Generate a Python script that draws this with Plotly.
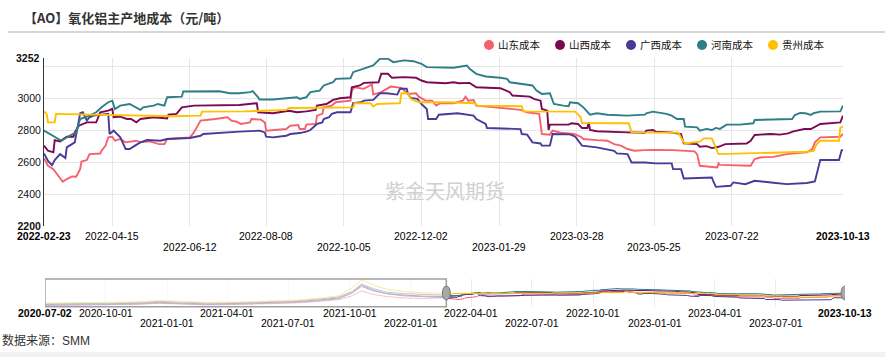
import plotly.graph_objects as go

# ---------------- data ----------------
series_names = ["山东成本", "山西成本", "广西成本", "河南成本", "贵州成本"]
colors = ["#F5616D", "#7A0A52", "#4A3A98", "#2E7E88", "#FFC000"]

sd_dates = ['2022-02-23','2022-02-26','2022-03-02','2022-03-06','2022-03-09','2022-03-12','2022-03-16','2022-03-19','2022-03-22','2022-03-23',
            '2022-03-27','2022-03-29','2022-04-06','2022-04-07','2022-04-10','2022-04-12','2022-04-15','2022-04-17','2022-04-21','2022-04-25',
            '2022-05-03','2022-05-06','2022-05-13','2022-05-20','2022-05-24','2022-05-26','2022-06-12','2022-06-15','2022-06-20','2022-07-01',
            '2022-07-10','2022-07-13','2022-07-17','2022-07-20','2022-07-27','2022-07-28','2022-08-04','2022-08-07','2022-08-08','2022-08-23',
            '2022-08-26','2022-09-01','2022-09-02','2022-09-06','2022-09-07','2022-09-14','2022-09-15','2022-09-19','2022-09-20','2022-09-26',
            '2022-09-29','2022-10-10','2022-10-11','2022-10-13','2022-10-20','2022-10-26','2022-10-27','2022-11-02','2022-11-09','2022-11-17',
            '2022-11-22','2022-11-28','2022-11-30','2022-12-05','2022-12-10','2022-12-13','2022-12-16','2022-12-26','2023-01-02','2023-01-04',
            '2023-01-06','2023-01-10','2023-01-12','2023-01-30','2023-02-14','2023-02-19','2023-02-28','2023-03-01','2023-03-02','2023-03-08',
            '2023-03-10','2023-03-16','2023-03-26','2023-03-31','2023-04-02','2023-04-12','2023-04-20','2023-04-25','2023-04-30','2023-05-05',
            '2023-05-10','2023-05-18','2023-05-24','2023-06-08','2023-06-24','2023-06-26','2023-06-28','2023-07-11','2023-07-12','2023-07-13',
            '2023-08-05','2023-08-08','2023-08-12','2023-08-22','2023-09-01','2023-09-11','2023-09-16','2023-09-20','2023-09-22','2023-09-26',
            '2023-10-11','2023-10-13']
sd_vals = [2625,2577,2556,2514,2477,2494,2510,2508,2556,2604,
           2613,2650,2654,2671,2703,2755,2759,2734,2745,2724,
           2734,2724,2730,2713,2713,2745,2755,2786,2860,2870,
           2881,2860,2853,2839,2849,2870,2866,2849,2797,2807,
           2828,2832,2807,2807,2835,2839,2891,2902,2943,2954,
           2975,2985,3048,3069,3059,3086,3023,3038,3073,3065,
           3027,3031,3010,2985,2985,2954,2969,2969,2985,3010,
           2985,2989,2954,2940,2927,2912,2902,2839,2776,2772,
           2797,2784,2776,2759,2745,2738,2734,2713,2703,2682,
           2671,2675,2677,2675,2667,2650,2577,2567,2592,2583,
           2577,2619,2629,2633,2650,2658,2661,2682,2724,2755,
           2759,2776]

sx_dates = ['2022-02-23','2022-02-26','2022-03-02','2022-03-03','2022-03-07','2022-03-12','2022-03-17','2022-03-18','2022-03-21','2022-03-27',
            '2022-04-03','2022-04-06','2022-04-12','2022-04-15','2022-04-16','2022-04-21','2022-04-26','2022-04-29','2022-05-03','2022-05-06',
            '2022-05-16','2022-05-26','2022-05-27','2022-06-02','2022-06-06','2022-06-15','2022-07-19','2022-08-01','2022-08-02','2022-08-13',
            '2022-08-25','2022-08-31','2022-09-07','2022-09-14','2022-09-15','2022-09-22','2022-09-25','2022-09-27','2022-10-02','2022-10-10',
            '2022-10-11','2022-10-17','2022-10-20','2022-10-31','2022-11-02','2022-11-07','2022-11-10','2022-11-19','2022-11-28','2022-12-02',
            '2022-12-06','2022-12-20','2022-12-26','2022-12-30','2023-01-07','2023-01-12','2023-01-30','2023-02-06','2023-02-08','2023-02-21',
            '2023-02-24','2023-03-01','2023-03-02','2023-03-06','2023-03-07','2023-03-08','2023-03-22','2023-03-24','2023-03-29','2023-04-01',
            '2023-04-05','2023-04-06','2023-04-07','2023-04-12','2023-05-05','2023-05-18','2023-05-19','2023-05-24','2023-05-26','2023-06-06',
            '2023-06-14','2023-06-16','2023-06-26','2023-06-28','2023-07-03','2023-07-07','2023-07-12','2023-07-17','2023-08-02','2023-08-05',
            '2023-08-08','2023-08-20','2023-08-27','2023-09-02','2023-09-06','2023-09-14','2023-09-19','2023-09-23','2023-09-26','2023-10-11',
            '2023-10-13']
sx_vals = [2703,2671,2661,2738,2730,2759,2759,2786,2828,2849,
           2849,2912,2922,2933,2881,2885,2870,2870,2849,2870,
           2881,2874,2897,2902,2943,2954,2958,2969,2912,2906,
           2922,2912,2918,2927,2954,2964,2979,2990,3000,3006,
           3069,3080,3096,3100,3153,3153,3128,3132,3128,3111,
           3100,3094,3100,3094,3096,3069,3063,3038,3017,3010,
           2996,2985,2933,2922,2801,2835,2835,2843,2839,2814,
           2814,2850,2801,2793,2786,2784,2797,2801,2791,2786,
           2776,2717,2713,2696,2700,2688,2696,2713,2717,2734,
           2770,2776,2772,2780,2793,2807,2807,2828,2839,2849,
           2891]

gx_dates = ['2022-02-23','2022-02-26','2022-03-01','2022-03-03','2022-03-07','2022-03-11','2022-03-12','2022-03-16','2022-03-18','2022-03-21',
            '2022-03-22','2022-03-24','2022-03-27','2022-03-29','2022-04-01','2022-04-12','2022-04-13','2022-04-16','2022-04-21','2022-04-25',
            '2022-04-28','2022-05-02','2022-05-06','2022-05-11','2022-05-21','2022-05-26','2022-06-12','2022-06-20','2022-06-22','2022-07-19',
            '2022-08-03','2022-08-07','2022-08-08','2022-08-13','2022-08-23','2022-08-26','2022-09-02','2022-09-07','2022-09-10','2022-09-15',
            '2022-09-19','2022-09-20','2022-09-24','2022-09-26','2022-09-30','2022-10-10','2022-10-12','2022-10-18','2022-10-20','2022-10-27',
            '2022-10-30','2022-11-01','2022-11-06','2022-11-14','2022-11-16','2022-11-21','2022-11-22','2022-11-24','2022-11-29','2022-12-02',
            '2022-12-06','2022-12-07','2022-12-13','2022-12-15','2022-12-29','2023-01-10','2023-01-12','2023-01-19','2023-01-20','2023-02-14',
            '2023-02-15','2023-02-19','2023-02-23','2023-03-01','2023-03-02','2023-03-08','2023-03-10','2023-03-23','2023-03-27','2023-04-01',
            '2023-04-12','2023-04-20','2023-04-25','2023-04-27','2023-05-05','2023-05-08','2023-05-18','2023-05-26','2023-06-07','2023-06-08',
            '2023-06-14','2023-06-16','2023-07-07','2023-07-08','2023-07-10','2023-07-21','2023-07-23','2023-08-01','2023-08-08','2023-08-22',
            '2023-09-01','2023-09-16','2023-09-22','2023-09-26','2023-10-10','2023-10-12','2023-10-13']
gx_vals = [2654,2608,2581,2613,2650,2625,2692,2717,2724,2860,
           2906,2912,2860,2881,2891,2902,2776,2797,2755,2682,
           2682,2703,2724,2738,2734,2745,2751,2765,2776,2791,
           2797,2786,2759,2755,2765,2776,2782,2791,2801,2839,
           2849,2870,2881,2902,2912,2912,2969,2975,2985,2990,
           3017,3031,3031,3023,3059,3059,3027,3002,2996,2964,
           2933,2870,2870,2897,2906,2891,2870,2839,2814,2807,
           2776,2772,2724,2717,2703,2703,2776,2774,2759,2703,
           2692,2682,2671,2655,2650,2598,2598,2592,2592,2556,
           2556,2498,2504,2483,2445,2452,2473,2462,2483,2471,
           2462,2469,2479,2613,2613,2675,2675]

hn_dates = ['2022-02-23','2022-03-05','2022-03-08','2022-03-12','2022-03-17','2022-03-19','2022-03-22','2022-03-29','2022-04-03','2022-04-07',
            '2022-04-12','2022-04-15','2022-04-17','2022-04-21','2022-04-28','2022-05-03','2022-05-06','2022-05-08','2022-05-16','2022-05-19',
            '2022-05-24','2022-05-26','2022-06-06','2022-06-07','2022-06-25','2022-07-04','2022-07-12','2022-07-19','2022-07-27','2022-07-29',
            '2022-08-02','2022-08-03','2022-08-13','2022-08-31','2022-09-02','2022-09-07','2022-09-10','2022-09-17','2022-09-20','2022-09-27',
            '2022-09-29','2022-10-10','2022-10-12','2022-10-20','2022-10-27','2022-11-01','2022-11-07','2022-11-11','2022-11-19','2022-11-26',
            '2022-12-02','2022-12-06','2022-12-20','2022-12-26','2023-01-05','2023-01-07','2023-01-12','2023-01-19','2023-01-30','2023-02-04',
            '2023-02-06','2023-02-14','2023-02-23','2023-02-26','2023-03-02','2023-03-08','2023-03-11','2023-03-18','2023-03-22','2023-03-23',
            '2023-03-29','2023-04-02','2023-04-07','2023-04-12','2023-04-20','2023-05-05','2023-05-18','2023-05-19','2023-05-24','2023-06-03',
            '2023-06-07','2023-06-11','2023-06-16','2023-06-17','2023-06-26','2023-06-28','2023-07-03','2023-07-07','2023-07-10','2023-07-13',
            '2023-07-18','2023-07-28','2023-08-07','2023-08-08','2023-08-22','2023-09-05','2023-09-07','2023-09-11','2023-09-15','2023-09-19',
            '2023-09-21','2023-09-26','2023-10-11','2023-10-13']
hn_vals = [2797,2745,2734,2755,2776,2786,2870,2891,2912,2943,
           2975,2985,2933,2954,2964,2943,2927,2943,2954,2964,
           2954,3006,3010,3042,3042,3044,3031,3031,3038,3044,
           3006,2992,2992,3006,2996,3006,3038,3048,3080,3100,
           3121,3125,3163,3184,3205,3247,3247,3226,3237,3232,
           3216,3195,3191,3191,3205,3184,3153,3136,3128,3121,
           3100,3090,3080,3048,3027,3031,2964,2954,2950,2975,
           2969,2943,2897,2906,2897,2891,2897,2906,2916,2902,
           2891,2870,2870,2822,2818,2797,2808,2801,2814,2808,
           2835,2835,2843,2864,2868,2870,2895,2908,2906,2895,
           2906,2916,2918,2954]

gz_dates = ['2022-02-23','2022-02-25','2022-02-26','2022-03-03','2022-03-04','2022-03-17','2022-05-06','2022-05-31','2022-06-20','2022-06-21',
            '2022-07-23','2022-08-23','2022-08-25','2022-10-12','2022-10-13','2022-10-25','2022-10-27','2022-10-30','2022-11-16','2022-11-17',
            '2022-11-22','2022-11-24','2022-11-30','2022-12-20','2023-01-11','2023-01-13','2023-02-15','2023-02-16','2023-03-27','2023-03-31',
            '2023-04-01','2023-05-06','2023-05-08','2023-06-12','2023-06-16','2023-06-17','2023-06-28','2023-07-01','2023-07-07','2023-07-10',
            '2023-07-12','2023-09-16','2023-09-21','2023-09-23','2023-09-26','2023-10-10','2023-10-11','2023-10-13']
gz_vals = [2918,2902,2849,2849,2902,2900,2893,2887,2891,2916,
           2918,2927,2939,2943,2969,2969,2948,2964,2969,3031,
           3031,2996,2975,2975,2969,2954,2950,2918,2916,2881,
           2845,2843,2786,2784,2724,2717,2728,2749,2749,2682,
           2650,2665,2671,2709,2734,2734,2814,2822]

# earlier history, visible only in the navigator (faded)
early_dates = ['2020-07-02','2020-08-15','2020-10-01','2020-11-15','2020-12-20','2021-01-20','2021-03-01','2021-04-15','2021-06-01',
               '2021-07-15','2021-08-20','2021-09-15','2021-10-05','2021-10-19','2021-11-05','2021-11-25','2021-12-20','2022-01-20','2022-02-22']
sd_early = [2080,2090,2110,2160,2230,2200,2120,2150,2200,2260,2380,2480,2750,3080,2850,2700,2600,2560,2620]
sx_early = [2150,2160,2180,2230,2300,2270,2190,2220,2280,2350,2480,2600,2950,3400,3100,2900,2800,2720,2700]
gx_early = [2100,2110,2130,2180,2260,2230,2150,2180,2240,2300,2430,2550,2950,3500,3150,2900,2750,2680,2650]
hn_early = [2200,2210,2230,2290,2360,2330,2250,2280,2340,2410,2550,2680,3050,3550,3250,3000,2900,2830,2800]
gz_early = [2250,2260,2280,2330,2420,2380,2300,2320,2380,2450,2600,2750,3300,3830,3500,3200,3050,2950,2920]

main_ticks = ['2022-02-23','2022-04-15','2022-06-12','2022-08-08','2022-10-05','2022-12-02',
              '2023-01-29','2023-03-28','2023-05-25','2023-07-22','2023-10-13']
nav_ticks = ['2020-07-02','2020-10-01','2021-01-01','2021-04-01','2021-07-01','2021-10-01','2022-01-01',
             '2022-04-01','2022-07-01','2022-10-01','2023-01-01','2023-04-01','2023-07-01','2023-10-13']
y_grid = [2200, 2400, 2600, 2800, 3000, 3200]
y_labels = ['<b>2200</b>', '2400', '2600', '2800', '3000', '']
y_min, y_max = 2200, 3252
nav_y_range = [2000, 3900]

# ---------------- figure ----------------
W, H = 885, 357
FONT = 'Arial, "Liberation Sans", "Noto Sans CJK SC", sans-serif'


def px_x(p):
    return p / W


def px_y(p):
    return 1 - p / H


main_series = [(sd_dates, sd_vals, sd_early), (sx_dates, sx_vals, sx_early), (gx_dates, gx_vals, gx_early),
               (hn_dates, hn_vals, hn_early), (gz_dates, gz_vals, gz_early)]

fig = go.Figure()
for (d, v, e), name, c in zip(main_series, series_names, colors):
    fig.add_trace(go.Scatter(x=d, y=v, mode='lines', line=dict(color=c, width=1.9),
                             name=name, showlegend=False, hoverinfo='skip', xaxis='x', yaxis='y'))
for (d, v, e), name, c in zip(main_series, series_names, colors):
    fig.add_trace(go.Scatter(x=early_dates + d, y=e + v, mode='lines', line=dict(color=c, width=1),
                             name=name, showlegend=False, hoverinfo='skip', xaxis='x2', yaxis='y2'))

main_start, main_end = sd_dates[0], sd_dates[-1]
nav_start = early_dates[0]

fig.update_layout(
    width=W, height=H, template='none',
    margin=dict(l=0, r=0, t=0, b=0),
    paper_bgcolor='white', plot_bgcolor='white',
    font=dict(family=FONT, size=10.5, color='#000'),
    showlegend=False,
    xaxis=dict(type='date', domain=[px_x(44), px_x(843)], range=[main_start, main_end],
               tickvals=main_ticks, showticklabels=False, showgrid=True, gridcolor='#e6e6e6', gridwidth=1,
               zeroline=False, showline=False, ticks='', anchor='y', automargin=False),
    yaxis=dict(domain=[px_y(226), px_y(58)], range=[y_min, y_max], tickvals=y_grid, ticktext=y_labels,
               showgrid=True, gridcolor='#e6e6e6', gridwidth=1, zeroline=False, showline=True,
               linecolor='#333', linewidth=1, ticks='', tickfont=dict(family=FONT, size=10.5, color='#111'),
               anchor='x', automargin=False),
    xaxis2=dict(type='date', domain=[px_x(45), px_x(845)], range=[nav_start, main_end],
                tickvals=nav_ticks, showticklabels=False, showgrid=True, gridcolor='#ececec',
                zeroline=False, showline=False, ticks='', anchor='y2', automargin=False),
    yaxis2=dict(domain=[px_y(306.7), px_y(279)], range=nav_y_range, visible=False, anchor='x2',
                automargin=False),
)

# legend (circle + label), laid out like the original
LEG_X0, LEG_PITCH, LEG_Y = 489, 71, 45
for i, (name, c) in enumerate(zip(series_names, colors)):
    cx = LEG_X0 + i * LEG_PITCH
    fig.add_shape(type='circle', xref='paper', xsizemode='pixel', xanchor=px_x(cx), x0=-5, x1=5,
                  yref='paper', ysizemode='pixel', yanchor=px_y(LEG_Y), y0=-5, y1=5,
                  fillcolor=c, line=dict(width=0))
    fig.add_annotation(x=px_x(cx + 7), xref='paper', y=px_y(LEG_Y), yref='paper', text=name,
                       showarrow=False, xanchor='left', yanchor='middle',
                       font=dict(family=FONT, size=10.5, color='#111'))

# top value label of the y axis
fig.add_annotation(x=px_x(44), xref='paper', y=y_max, yref='y', text='<b>3252</b>', showarrow=False,
                   xanchor='right', yanchor='middle', xshift=-2, font=dict(family=FONT, size=10.5, color='#111'))

# alternating-row tick labels for the main axis and navigator


def add_tick_labels(ticks, xref, y_row1, y_row2):
    n = len(ticks)
    for i, t in enumerate(ticks):
        edge = i == 0 or i == n - 1
        row2 = (not edge) and i % 2 == 0
        fig.add_annotation(x=t, xref=xref, y=px_y(y_row2 if row2 else y_row1), yref='paper',
                           text=f'<b>{t}</b>' if edge else t, showarrow=False,
                           xanchor='center', yanchor='middle', font=dict(family=FONT, size=10.5, color='#000'))


add_tick_labels(main_ticks, 'x', 235.5, 246.7)
add_tick_labels(nav_ticks, 'x2', 313.3, 323)

# title (centred on the original title's span), separator line, watermark, source
fig.add_annotation(x=px_x(126), xref='paper', y=px_y(17), yref='paper', text='<b>【AO】氧化铝主产地成本（元/吨）</b>',
                   showarrow=False, xanchor='center', yanchor='middle',
                   font=dict(family='"Noto Sans CJK SC", sans-serif', size=13, color='#333'))
fig.add_shape(type='line', xref='paper', yref='paper', x0=px_x(8), x1=1, y0=px_y(32), y1=px_y(32),
              line=dict(color='#c8c8c8', width=1.5))
fig.add_annotation(x=px_x(445), xref='paper', y=px_y(190), yref='paper', text='紫金天风期货', showarrow=False,
                   xanchor='center', yanchor='middle',
                   font=dict(family='"Noto Sans CJK SC", sans-serif', size=20, color='#d0d0d0'))
fig.add_annotation(x=0, xref='paper', y=px_y(340), yref='paper', text='数据来源：SMM', showarrow=False,
                   xanchor='left', yanchor='middle', font=dict(family=FONT, size=12, color='#333'))
fig.add_shape(type='rect', xref='paper', yref='paper', x0=0, x1=1, y0=0, y1=px_y(352),
              fillcolor='#f2f2f2', line=dict(width=0), layer='below')

# navigator mask over the unselected range and its handles
fig.add_shape(type='rect', xref='x2', yref='y2 domain', x0=nav_start, x1=main_start, y0=0, y1=1,
              fillcolor='rgba(255,255,255,0.62)', line=dict(color='#a0a0a0', width=1.5), layer='above')
for anchor in (main_start, main_end):
    fig.add_shape(type='circle', xref='x2', xsizemode='pixel', xanchor=anchor, x0=-4, x1=4,
                  yref='paper', ysizemode='pixel', yanchor=px_y(293), y0=-7, y1=7,
                  fillcolor='#a8a8a8', line=dict(color='#777', width=1), layer='above')

fig.write_html('out.html', config={'displayModeBar': False},
               post_script="document.body.style.margin='0';document.body.style.overflow='hidden';")
